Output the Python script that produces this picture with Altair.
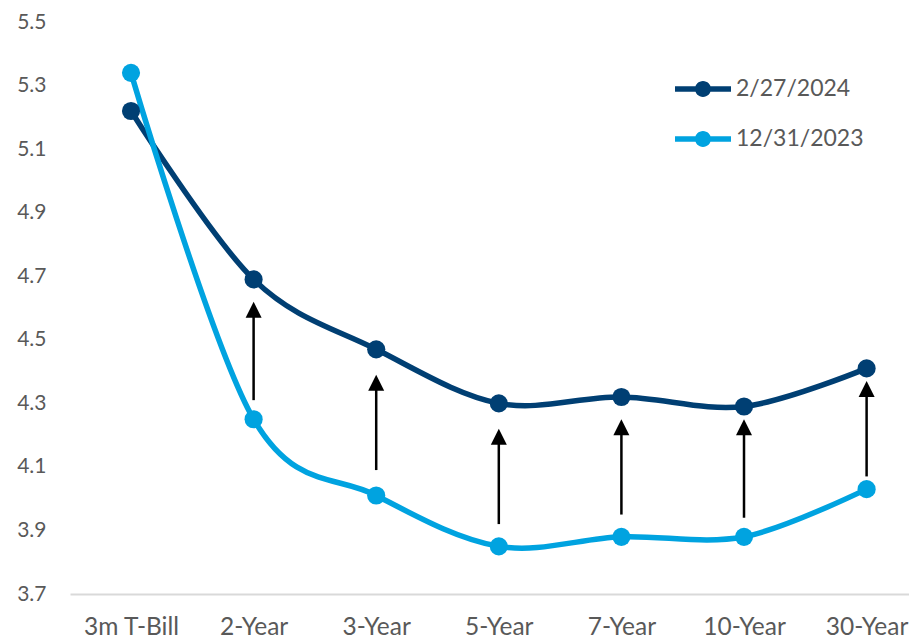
import altair as alt
import pandas as pd

# Treasury yields (%) by maturity
tenors = ["3m T-Bill", "2-Year", "3-Year", "5-Year", "7-Year", "10-Year", "30-Year"]
yields_feb_2024 = [5.22, 4.69, 4.47, 4.30, 4.32, 4.29, 4.41]
yields_dec_2023 = [5.34, 4.25, 4.01, 3.85, 3.88, 3.88, 4.03]
series_names = ["2/27/2024", "12/31/2023"]
series_colors = ["#003F73", "#00A3E0"]
y_ticks = [3.7, 3.9, 4.1, 4.3, 4.5, 4.7, 4.9, 5.1, 5.3, 5.5]

# Annotation arrows between the two curves (tail and tip, in yield units)
arrow_tenors = ["2-Year", "3-Year", "5-Year", "7-Year", "10-Year", "30-Year"]
arrow_tail = [4.31, 4.09, 3.92, 3.95, 3.94, 4.07]
arrow_tip = [4.62, 4.39, 4.22, 4.25, 4.25, 4.37]

long_rows = []
for name, vals in zip(series_names, [yields_feb_2024, yields_dec_2023]):
    for t, v in zip(tenors, vals):
        long_rows.append({"tenor": t, "series": name, "yield": v})
long_df = pd.DataFrame(long_rows)

arrow_df = pd.DataFrame({"tenor": arrow_tenors, "tail": arrow_tail, "tip": arrow_tip})

FONT = "Lato"
GREY = "#595959"

x_enc = alt.X(
    "tenor:N",
    sort=tenors,
    scale=alt.Scale(type="point", padding=0.4217, align=0.59),
    axis=alt.Axis(
        title=None, labelAngle=0, labelAlign="center", ticks=False,
        domainColor="#D9D9D9", domainWidth=2, labelPadding=33,
        labelFontSize=24.5, labelColor=GREY, labelFont=FONT, grid=False,
    ),
)
y_scale = alt.Scale(domain=[3.7, 5.5], nice=False, zero=False)
y_axis = alt.Axis(
    title=None, values=y_ticks, format=".1f", ticks=False, domain=False,
    grid=False, labelPadding=24, labelFontSize=21, labelColor=GREY, labelFont=FONT,
)

# Legend glyph: a short line with a dot in the middle
legend_symbol = (
    "M-2,-0.2 L2,-0.2 L2,0.2 L-2,0.2 Z "
    "M-0.57,0 A0.57,0.57 0 1,1 0.57,0 A0.57,0.57 0 1,1 -0.57,0 Z"
)

line_layers = []
for name, col in zip(series_names, series_colors):
    line_layers.append(
        alt.Chart(long_df)
        .transform_filter(alt.datum.series == name)
        .mark_line(interpolate="cardinal", strokeWidth=5.5, color=col)
        .encode(
            x=x_enc,
            y=alt.Y("yield:Q", scale=y_scale, axis=y_axis),
        )
    )

points = alt.Chart(long_df).mark_circle(size=330, opacity=1).encode(
    x=alt.X("tenor:N", sort=tenors),
    y=alt.Y("yield:Q"),
    color=alt.Color(
        "series:N",
        sort=series_names,
        scale=alt.Scale(domain=series_names, range=series_colors),
        legend=alt.Legend(
            title=None, orient="none", legendX=619, legendY=53,
            symbolType=legend_symbol, symbolSize=784, symbolStrokeWidth=0,
            symbolOpacity=1,
            labelOffset=19, rowPadding=24, padding=0,
            labelFontSize=23, labelColor=GREY, labelFont=FONT,
        ),
    ),
)

shafts = alt.Chart(arrow_df).mark_rule(
    color="black", strokeWidth=2.5, y2Offset=10
).encode(
    x=alt.X("tenor:N", sort=tenors),
    y=alt.Y("tail:Q"),
    y2="tip:Q",
)

heads = alt.Chart(arrow_df).mark_point(
    shape="M0,-1 L-1,1 L1,1 Z", size=256, filled=True,
    color="black", opacity=1, yOffset=8,
).encode(
    x=alt.X("tenor:N", sort=tenors),
    y=alt.Y("tip:Q"),
)

chart = (
    alt.layer(shafts, heads, *line_layers, points)
    .properties(
        width=839, height=572,
        autosize=alt.AutoSizeParams(type="none"),
        padding={"left": 70, "top": 22, "right": 0, "bottom": 44},
        background="white",
    )
    .configure_view(stroke=None)
)

chart.save("out.html", embed_options={"renderer": "svg", "actions": False})
